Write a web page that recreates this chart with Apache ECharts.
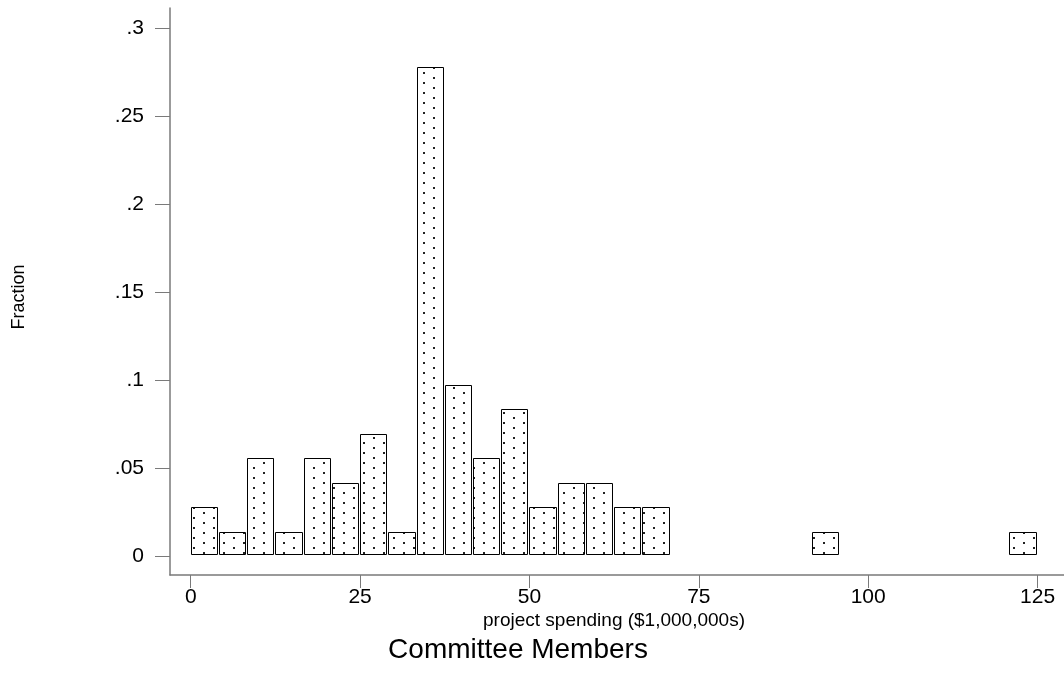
<!DOCTYPE html>
<html>
<head>
<meta charset="utf-8">
<script src="https://cdn.jsdelivr.net/npm/echarts@6/dist/echarts.min.js"></script>
<style>html,body{margin:0;padding:0;background:#fff}#c{width:1064px;height:673px}</style>
</head>
<body>
<div id="c"></div>
<script>
// Histogram: 30 bins from 0 to 125, fraction per bin
const binMin = 0;
const binMax = 125;
const binCount = 30;
const fractions = [
  0.0278, 0.0139, 0.0556, 0.0139, 0.0556, 0.0417, 0.0694, 0.0139, 0.2778, 0.0972,
  0.0556, 0.0833, 0.0278, 0.0417, 0.0417, 0.0278, 0.0278, 0, 0, 0,
  0, 0, 0.0139, 0, 0, 0, 0, 0, 0, 0.0139
];
const xTicks = [0, 25, 50, 75, 100, 125];
const xTickLabels = ['0', '25', '50', '75', '100', '125'];
const yTicks = [0, 0.05, 0.1, 0.15, 0.2, 0.25, 0.3];
const yTickLabels = ['0', '.05', '.1', '.15', '.2', '.25', '.3'];
const xTitle = 'project spending ($1,000,000s)';
const yTitle = 'Fraction';
const chartTitle = 'Committee Members';

const binWidth = (binMax - binMin) / binCount;
const barData = fractions.map((f, i) => [binMin + i * binWidth, binMin + (i + 1) * binWidth, f]);

// dotted fill pattern
const pat = document.createElement('canvas');
pat.width = 20; pat.height = 10;
const pc = pat.getContext('2d');
pc.fillStyle = '#ffffff'; pc.fillRect(0, 0, 20, 10);
pc.fillStyle = '#222222';
pc.fillRect(3, 2, 2, 2);
pc.fillRect(13, 7, 2, 2);

function lookup(ticks, labels, v) {
  let best = 0;
  for (let i = 0; i < ticks.length; i++) if (Math.abs(ticks[i] - v) < Math.abs(ticks[best] - v)) best = i;
  return labels[best];
}

const font = 'Liberation Sans, Arial, sans-serif';
const chart = echarts.init(document.getElementById('c'), null, {renderer: 'canvas'});
const axisColor = '#7a7a7a';
chart.setOption({
  animation: false,
  backgroundColor: '#ffffff',
  grid: {left: 170, right: 0, top: 8, bottom: 98, containLabel: false},
  xAxis: {
    type: 'value', min: -3.06, max: 128.9,
    axisLine: {show: true, onZero: false, lineStyle: {color: axisColor, width: 1.5}},
    axisTick: {show: true, customValues: xTicks, length: 13, lineStyle: {color: axisColor, width: 1}},
    axisLabel: {customValues: xTicks, margin: 12, fontSize: 21, color: '#000', fontFamily: font,
      formatter: v => lookup(xTicks, xTickLabels, v)},
    splitLine: {show: false}
  },
  yAxis: {
    type: 'value', min: -0.0108, max: 0.3114,
    axisLine: {show: true, onZero: false, lineStyle: {color: axisColor, width: 1.5}},
    axisTick: {show: true, customValues: yTicks, length: 15, lineStyle: {color: axisColor, width: 1}},
    axisLabel: {customValues: yTicks, margin: 26, fontSize: 21, color: '#000', fontFamily: font,
      formatter: v => lookup(yTicks, yTickLabels, v)},
    splitLine: {show: false}
  },
  series: [{
    type: 'custom',
    data: barData,
    encode: {x: [0, 1], y: 2},
    renderItem: function (params, api) {
      const v = api.value(2);
      if (!v) return null;
      const p0 = api.coord([api.value(0), v]);
      const p1 = api.coord([api.value(1), 0]);
      const x = Math.round(p0[0]) + 0.5;
      const w = Math.round(p1[0]) - Math.round(p0[0]) - 2;
      const y = Math.round(p0[1]) + 0.5;
      const h = Math.round(p1[1]) - Math.round(p0[1]) - 2;
      return {
        type: 'rect',
        shape: {x: x, y: y, width: w, height: h},
        style: {fill: {image: pat, repeat: 'repeat'}, stroke: '#000', lineWidth: 1}
      };
    }
  }],
  graphic: [
    {type: 'text', x: 614, y: 621, style: {text: xTitle, fontSize: 19, fill: '#000', fontFamily: font, align: 'center', verticalAlign: 'middle'}},
    {type: 'text', x: 518, y: 650, style: {text: chartTitle, fontSize: 28, fill: '#000', fontFamily: font, align: 'center', verticalAlign: 'middle'}},
    {type: 'text', x: 19, y: 297, rotation: Math.PI / 2, style: {text: yTitle, fontSize: 18, fill: '#000', fontFamily: font, align: 'center', verticalAlign: 'middle'}}
  ]
});
</script>
</body>
</html>
